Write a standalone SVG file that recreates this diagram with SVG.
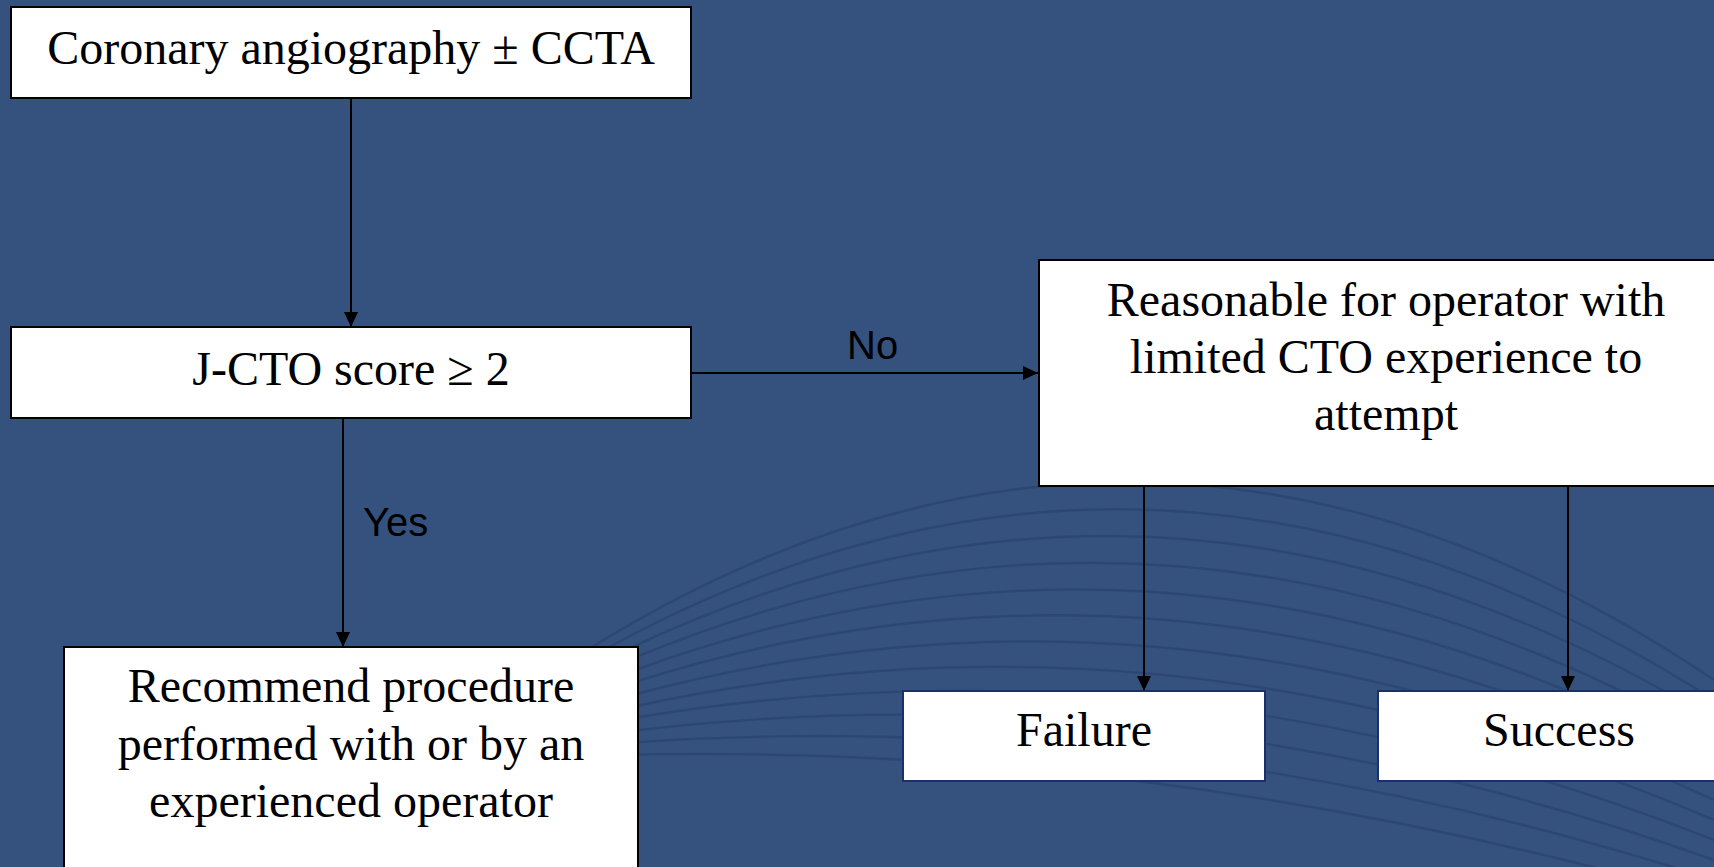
<svg xmlns="http://www.w3.org/2000/svg" width="1714" height="867" viewBox="0 0 1714 867">
<defs>
<style>
.box{fill:#ffffff;stroke:#000000;stroke-width:2}
.box2{fill:#ffffff;stroke:#1b2f6b;stroke-width:2}
.t{font-family:"Liberation Serif","Times New Roman",serif;font-size:48px;fill:#000000;text-anchor:middle}
.lbl{font-family:"Liberation Sans",Arial,sans-serif;font-size:40px;fill:#000000}
.c{stroke:#000000;stroke-width:2;fill:none;marker-end:url(#ah)}
.arc{fill:none;stroke:#27416a;stroke-width:2.4;opacity:0.6}
</style>
<marker id="ah" viewBox="0 0 15 14" refX="15" refY="7" markerWidth="15" markerHeight="14" markerUnits="userSpaceOnUse" orient="auto">
<path d="M0,0 L15,7 L0,14 Z" fill="#000000"/>
</marker>
</defs>
<rect x="0" y="0" width="1714" height="867" fill="#34527d"/>
<g id="texture">
<path class="arc" d="M480,723 Q1097,264 1714,680"/>
<path class="arc" d="M480,726 Q1097,306 1714,700"/>
<path class="arc" d="M480,730 Q1097,347 1714,720"/>
<path class="arc" d="M480,733 Q1097,389 1714,740"/>
<path class="arc" d="M480,737 Q1097,431 1714,760"/>
<path class="arc" d="M480,740 Q1097,472 1714,780"/>
<path class="arc" d="M480,744 Q1097,514 1714,800"/>
<path class="arc" d="M480,747 Q1097,556 1714,820"/>
<path class="arc" d="M480,750 Q1097,597 1714,840"/>
<path class="arc" d="M480,754 Q1097,639 1714,860"/>
<path class="arc" d="M480,757 Q1097,681 1714,880"/>
<path class="arc" d="M480,761 Q1097,722 1714,900"/>
</g>
<g id="connectors">
<line class="c" x1="351" y1="98" x2="351" y2="327"/>
<line class="c" x1="691" y1="373" x2="1038" y2="373"/>
<line class="c" x1="343" y1="418" x2="343" y2="647"/>
<line class="c" x1="1144" y1="486" x2="1144" y2="691"/>
<line class="c" x1="1568" y1="486" x2="1568" y2="691"/>
<text class="lbl" x="847" y="359">No</text>
<text class="lbl" x="363" y="536">Yes</text>
</g>
<g id="n1">
<rect class="box" x="11" y="7" width="680" height="91"/>
<text class="t" x="351" y="64">Coronary angiography ± CCTA</text>
</g>
<g id="n2">
<rect class="box" x="11" y="327" width="680" height="91"/>
<text class="t" x="351" y="385">J-CTO score ≥ 2</text>
</g>
<g id="n3">
<rect class="box" x="1039" y="260" width="700" height="226"/>
<text class="t" x="1386" y="316">Reasonable for operator with</text>
<text class="t" x="1386" y="373">limited CTO experience to</text>
<text class="t" x="1386" y="430">attempt</text>
</g>
<g id="n4">
<rect class="box" x="64" y="647" width="574" height="240"/>
<text class="t" x="351" y="702">Recommend procedure</text>
<text class="t" x="351" y="760">performed with or by an</text>
<text class="t" x="351" y="817">experienced operator</text>
</g>
<g id="n5">
<rect class="box2" x="903" y="691" width="362" height="90"/>
<text class="t" x="1084" y="746">Failure</text>
</g>
<g id="n6">
<rect class="box2" x="1378" y="691" width="362" height="90"/>
<text class="t" x="1559" y="746">Success</text>
</g>
</svg>
